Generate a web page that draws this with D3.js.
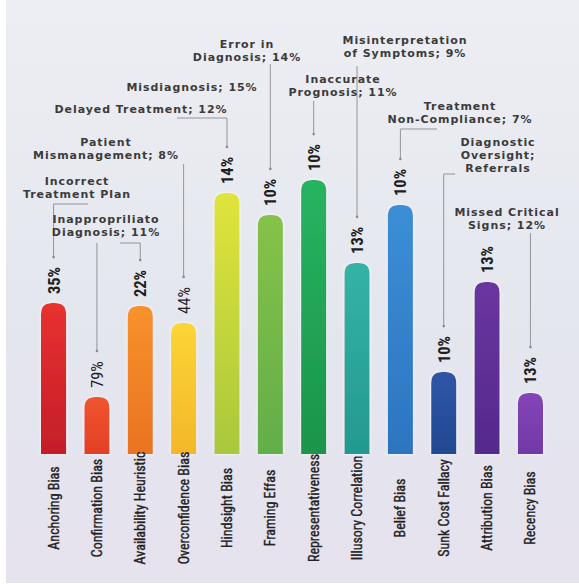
<!DOCTYPE html>
<html><head><meta charset="utf-8">
<script src="https://cdn.jsdelivr.net/npm/d3@7"></script>
<style>
html,body{margin:0;padding:0;background:#fff;}
svg{display:block;}
</style></head>
<body><svg id="chart" width="579" height="584"></svg>
<script>
// ---- data ----
const categories = ["Anchoring Bias","Confirmation Bias","Availability Heuristic","Overconfidence Bias","Hindsight Bias","Framing Effas","Representativeness","Illusory Correlation","Belief Bias","Sunk Cost Fallacy","Attribution Bias","Recency Bias"];
const barScores = [50.3, 19, 49.3, 43.7, 87, 79.7, 91.3, 63.7, 83, 27.3, 57.3, 20.3];
const valueLabels = ["35%","79%","22%","44%","14%","10%","10%","13%","10%","10%","13%","13%"];
const boldLabel = [true,false,true,false,true,true,true,true,true,true,true,true];
const topColors = ["#e8312f","#f0552e","#f7922a","#fbd535","#e0e43a","#86c24a","#27b461","#35b3a6","#3b8fd6","#2f56a6","#6a35a0","#8444b8"];
const bottomColors = ["#c41e2a","#e23f26","#ea7322","#f4b72a","#a9c83c","#62ae48","#1b944a","#23998f","#2c75c0","#234892","#542a8c","#7239a8"];
const calloutTexts = [
  ["Error in","Diagnosis; 14%"],
  ["Misdiagnosis; 15%"],
  ["Delayed Treatment; 12%"],
  ["Patient","Mismanagement; 8%"],
  ["Incorrect","Treatment Plan"],
  ["Inappropriliato","Diagnosis; 11%"],
  ["Misinterpretation","of Symptoms; 9%"],
  ["Inaccurate","Prognosis; 11%"],
  ["Treatment","Non-Compliance; 7%"],
  ["Diagnostic","Oversight;","Referrals"],
  ["Missed Critical","Signs; 12%"]
];
const calloutTargets = [
  ["Framing Effas"], [], ["Hindsight Bias"], ["Overconfidence Bias"], ["Anchoring Bias"],
  ["Confirmation Bias","Availability Heuristic"], ["Illusory Correlation"], ["Representativeness"],
  ["Belief Bias"], ["Sunk Cost Fallacy"], ["Recency Bias"]
];

// ---- layout (positions only) ----
const calloutLayout = [
  {cx:247, y:48, legs:[{y0:64, hx:null}]},
  {cx:192, y:91, legs:[]},
  {cx:141, y:113, legs:[{y0:118, hx:177}]},
  {cx:106, y:146, legs:[{y0:164, hx:null}]},
  {cx:77, y:185, legs:[{y0:204, hx:88}]},
  {cx:106, y:223, legs:[{y0:243, hx:null},{y0:243, hx:120}]},
  {cx:405, y:44, legs:[{y0:66, hx:null}]},
  {cx:343, y:83, legs:[{y0:101, hx:null}]},
  {cx:460, y:110, legs:[{y0:129, hx:437}]},
  {cx:498, y:146, legs:[{y0:174, hx:455}]},
  {cx:507, y:216, legs:[{y0:233, hx:null}]}
];

const svg = d3.select("#chart");
const defs = svg.append("defs");

// background
const bg = defs.append("linearGradient").attr("id","bg").attr("x1",0).attr("y1",0).attr("x2",0).attr("y2",1);
bg.append("stop").attr("offset","0%").attr("stop-color","#eceef3");
bg.append("stop").attr("offset","60%").attr("stop-color","#e4e6ee");
bg.append("stop").attr("offset","100%").attr("stop-color","#e6e2ee");
svg.append("rect").attr("x",6).attr("y",0).attr("width",573).attr("height",583).attr("fill","url(#bg)");

const x = d3.scaleBand().domain(categories).range([41, 543]).paddingInner(0.42).paddingOuter(0);
const y = d3.scaleLinear().domain([0, 100]).range([454, 154]);
const bw = x.bandwidth();

categories.forEach((c,i)=>{
  const g = defs.append("linearGradient").attr("id","g"+i).attr("x1",0).attr("y1",0).attr("x2",0).attr("y2",1);
  g.append("stop").attr("offset","0%").attr("stop-color",topColors[i]);
  g.append("stop").attr("offset","100%").attr("stop-color",bottomColors[i]);
});

const glow = defs.append("filter").attr("id","glow").attr("x","-30%").attr("y","-10%").attr("width","160%").attr("height","120%");
glow.append("feGaussianBlur").attr("in","SourceAlpha").attr("stdDeviation",1.5).attr("result","b");
glow.append("feFlood").attr("flood-color","#ffffff").attr("flood-opacity",0.9);
glow.append("feComposite").attr("in2","b").attr("operator","in").attr("result","w");
const m = glow.append("feMerge");
m.append("feMergeNode").attr("in","w");
m.append("feMergeNode").attr("in","SourceGraphic");

function barPath(x0, w, top, bottom){
  const r = Math.min(w/2, 11);
  return `M${x0},${bottom} L${x0},${top+r} Q${x0},${top} ${x0+r},${top} L${x0+w-r},${top} Q${x0+w},${top} ${x0+w},${top+r} L${x0+w},${bottom} Z`;
}

svg.append("g").selectAll("path").data(categories).join("path")
  .attr("d",(c,i)=>barPath(x(c), bw, y(barScores[i]), y(0)))
  .attr("fill",(c,i)=>`url(#g${i})`)
  .attr("filter","url(#glow)");

const narrow = "'Liberation Sans Narrow','Roboto Condensed','DejaVu Sans Condensed',sans-serif";

// value labels
svg.append("g").selectAll("text").data(categories).join("text")
  .attr("transform",(c,i)=>`translate(${x(c)+bw/2},${y(barScores[i])-9}) rotate(-90)`)
  .attr("dy","0.36em")
  .attr("text-anchor","start")
  .attr("font-family",narrow)
  .attr("font-size",16.5)
  .attr("font-weight",(c,i)=>boldLabel[i]?"bold":"normal")
  .attr("fill","#1e1e1e")
  .text((c,i)=>valueLabels[i]);

// category labels
svg.append("g").selectAll("text").data(categories).join("text")
  .attr("transform",c=>`translate(${x(c)+bw/2},508) rotate(-90)`)
  .attr("dy","0.36em")
  .attr("text-anchor","middle")
  .attr("font-family",narrow)
  .attr("font-size",14)
  .attr("fill","#222")
  .attr("stroke","#222")
  .attr("stroke-width",0.35)
  .text(c=>c);

// callouts
const cg = svg.append("g");
calloutTexts.forEach((lines,k)=>{
  const L = calloutLayout[k];
  const t = cg.append("text")
    .attr("text-anchor","middle")
    .attr("font-family","'DejaVu Sans',sans-serif")
    .attr("font-weight","bold")
    .attr("font-size",11)
    .attr("letter-spacing",0.95)
    .attr("fill","#3b3b3b");
  lines.forEach((s,j)=>{
    t.append("tspan").attr("x",L.cx).attr("y",L.y + j*13).text(s);
  });
  calloutTargets[k].forEach((cat,j)=>{
    const leg = L.legs[j];
    const i = categories.indexOf(cat);
    const lx = x(cat)+bw/2;
    const yEnd = y(barScores[i]) - 46;
    let pts = [];
    if(leg.hx!==null) pts.push([leg.hx, leg.y0]);
    pts.push([lx, leg.y0]);
    pts.push([lx, yEnd]);
    cg.append("path").attr("d", d3.line()(pts))
      .attr("fill","none").attr("stroke","#8a8a90").attr("stroke-width",0.9);
    cg.append("circle").attr("cx",lx).attr("cy",yEnd).attr("r",1.3).attr("fill","#8a8a90");
  });
});
</script>
</body></html>
